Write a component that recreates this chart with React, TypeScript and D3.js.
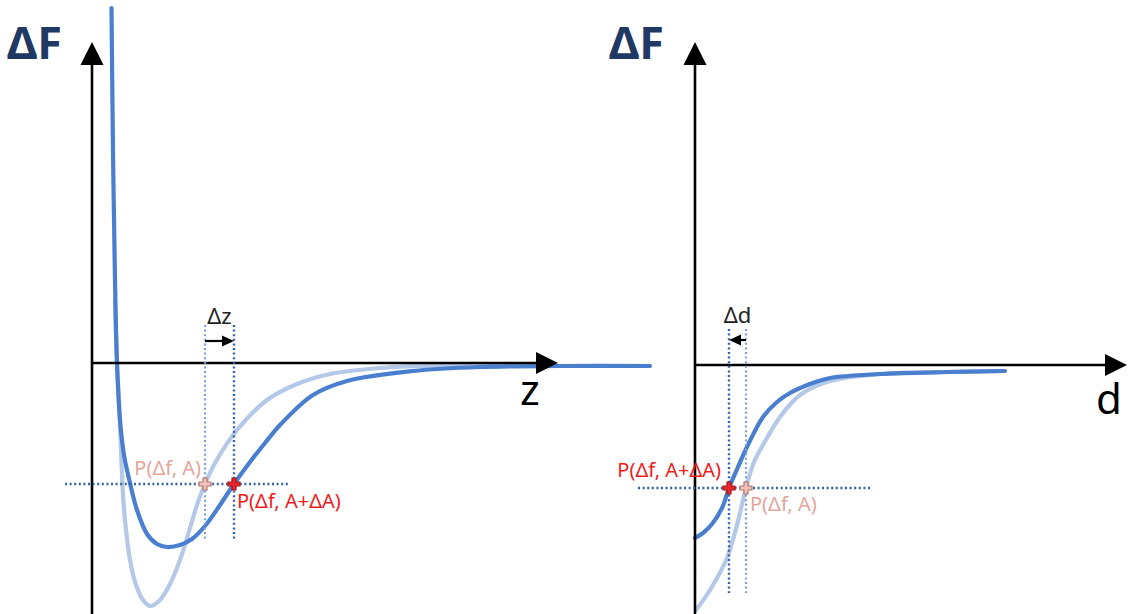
import React from "react";
import * as d3 from "d3";

// Interaction curves ΔF(z): light = amplitude A, dark = amplitude A+ΔA
const leftCurveA: [number, number][] = [
  [0.23, 0.63], [0.25, 0], [0.27, -0.37], [0.29, -0.87], [0.31, -1.32], [0.34, -1.67],
  [0.38, -1.97], [0.44, -2.22], [0.51, -2.37], [0.58, -2.43], [0.67, -2.38], [0.77, -2.23],
  [0.88, -1.97], [0.98, -1.65], [1.06, -1.39], [1.13, -1.21], [1.23, -1.0], [1.45, -0.67],
  [1.75, -0.37], [2.05, -0.21], [2.38, -0.11], [2.88, -0.05], [3.55, -0.02], [4.28, -0.01],
];
const leftCurveAdA: [number, number][] = [
  [0.195, 3.55], [0.21, 2.13], [0.23, 0.83], [0.25, 0], [0.28, -0.57], [0.32, -0.92],
  [0.38, -1.2], [0.45, -1.47], [0.55, -1.71], [0.65, -1.81], [0.75, -1.84], [0.88, -1.82],
  [1.0, -1.76], [1.13, -1.63], [1.26, -1.45], [1.42, -1.21], [1.58, -0.99], [1.73, -0.8],
  [1.88, -0.62], [2.21, -0.32], [2.55, -0.18], [3.21, -0.08], [3.88, -0.04], [4.68, -0.03],
  [5.58, -0.03],
];

// Same interaction plotted against d
const rightCurveA: [number, number][] = [
  [0.01, -2.45], [0.15, -2.25], [0.32, -1.93], [0.42, -1.6], [0.51, -1.23], [0.59, -0.97],
  [0.68, -0.8], [0.85, -0.52], [1.05, -0.3], [1.35, -0.16], [1.85, -0.09], [2.52, -0.07],
  [3.08, -0.06],
];
const rightCurveAdA: [number, number][] = [
  [0.0, -1.73], [0.08, -1.68], [0.17, -1.59], [0.27, -1.43], [0.34, -1.23], [0.43, -1.02],
  [0.52, -0.82], [0.68, -0.52], [0.82, -0.37], [0.95, -0.28], [1.15, -0.19], [1.35, -0.13],
  [1.85, -0.09], [2.52, -0.07], [3.1, -0.06],
];

// Set-point markers [x, ΔF]
const leftPointA: [number, number] = [1.13, -1.21];
const leftPointAdA: [number, number] = [1.42, -1.21];
const rightPointA: [number, number] = [0.51, -1.23];
const rightPointAdA: [number, number] = [0.34, -1.23];

const labelA = "P(Δf, A)";
const labelAdA = "P(Δf, A+ΔA)";
const yLabel = "ΔF";
const leftXLabel = "z";
const rightXLabel = "d";
const leftShiftLabel = "Δz";
const rightShiftLabel = "Δd";

const W = 1128;
const H = 614;

const DARK = "#4a7fd0";
const LIGHT = "#b4c8e8";
const DOT_DARK = "#3462a6";
const DOT_LIGHT = "#7d9fd3";
const RED = "#f01c1c";
const PINK = "#e3a69d";
const NAVY = "#1f3864";
const FONT = "'Noto Sans', 'Open Sans', sans-serif";

const zScale = d3.scaleLinear().domain([0, 4.68]).range([92, 560]);
const fLeft = d3.scaleLinear().domain([-2.51, 3.63]).range([H, 0]);
const dScale = d3.scaleLinear().domain([0, 4.33]).range([695, 1128]);
const fRight = d3.scaleLinear().domain([-2.49, 3.65]).range([H, 0]);

const crossPath = d3.symbol().type(d3.symbolCross).size(80)() as string;

function Arrow({ x1, y1, x2, y2, head, width, sw }: { x1: number; y1: number; x2: number; y2: number; head: number; width: number; sw: number }) {
  const ang = Math.atan2(y2 - y1, x2 - x1);
  const bx = x2 - head * Math.cos(ang);
  const by = y2 - head * Math.sin(ang);
  const px = -Math.sin(ang) * (width / 2);
  const py = Math.cos(ang) * (width / 2);
  return (
    <g>
      <line x1={x1} y1={y1} x2={bx} y2={by} stroke="#000" strokeWidth={sw} />
      <path d={`M${x2},${y2}L${bx + px},${by + py}L${bx - px},${by - py}Z`} fill="#000" />
    </g>
  );
}

function Panel({
  xs, ys, curveA, curveAdA, pA, pAdA, xLabel, shiftLabel, axisTop, axisRightTip, xLabelPos, hRange, vRange, shiftY, labelPos, yLabelX,
}: any) {
  const line = d3
    .line<[number, number]>()
    .x((d) => xs(d[0]))
    .y((d) => ys(d[1]))
    .curve(d3.curveCatmullRom.alpha(0.5));
  const x0 = xs(0);
  const y0 = ys(0);
  const yP = ys(pA[1]);
  const xA = xs(pA[0]);
  const xAdA = xs(pAdA[0]);
  return (
    <g>
      <path d={line(curveA) as string} fill="none" stroke={LIGHT} strokeWidth={4.2} strokeLinecap="round" />
      <path d={line(curveAdA) as string} fill="none" stroke={DARK} strokeWidth={4.2} strokeLinecap="round" />

      {/* axes */}
      <Arrow x1={x0} y1={H} x2={x0} y2={axisTop} head={23} width={23} sw={2.6} />
      <Arrow x1={x0} y1={y0} x2={axisRightTip} y2={y0} head={22} width={22} sw={2.6} />

      {/* guide lines through the set points */}
      <line x1={xs(hRange[0])} x2={xs(hRange[1])} y1={yP} y2={yP} stroke={DOT_DARK} strokeWidth={2.4} strokeDasharray="2 2.6" />
      <line x1={xA} x2={xA} y1={ys(vRange[0])} y2={ys(vRange[1])} stroke={DOT_LIGHT} strokeWidth={2.2} strokeDasharray="2 2.6" />
      <line x1={xAdA} x2={xAdA} y1={ys(vRange[0])} y2={ys(vRange[1])} stroke={DOT_DARK} strokeWidth={2.4} strokeDasharray="2 2.6" />

      {/* shift arrow from A to A+ΔA */}
      <Arrow x1={xA} y1={shiftY} x2={xAdA} y2={shiftY} head={12} width={11} sw={2.2} />
      <text x={(xA + xAdA) / 2} y={shiftY - 17} textAnchor="middle" fontFamily={FONT} fontSize={22} fill="#222">
        {shiftLabel}
      </text>

      {/* set points */}
      <path d={crossPath} transform={`translate(${xA},${yP})`} fill="#efc3ba" stroke="#b5766c" strokeWidth={1.2} />
      <path d={crossPath} transform={`translate(${xAdA},${yP})`} fill="#e8262b" stroke="#a81818" strokeWidth={1.2} />

      <text x={labelPos.ax} y={labelPos.ay} textAnchor={labelPos.aAnchor} fontFamily={FONT} fontSize={20} fill={PINK}>
        {labelA}
      </text>
      <text x={labelPos.bx} y={labelPos.by} textAnchor={labelPos.bAnchor} fontFamily={FONT} fontSize={20} fill={RED}>
        {labelAdA}
      </text>

      <text x={yLabelX} y={59} fontFamily={FONT} fontWeight={700} fontSize={45} fill={NAVY}>
        {yLabel}
      </text>
      <text x={xLabelPos[0]} y={xLabelPos[1]} fontFamily={FONT} fontSize={42} fill="#000">
        {xLabel}
      </text>
    </g>
  );
}

export default function App() {
  return (
    <svg width={W} height={H} style={{ position: "absolute", left: 0, top: 0, background: "#fff" }}>
      <rect width={W} height={H} fill="#fff" />
      <Panel
        xs={zScale}
        ys={fLeft}
        curveA={leftCurveA}
        curveAdA={leftCurveAdA}
        pA={leftPointA}
        pAdA={leftPointAdA}
        xLabel={leftXLabel}
        shiftLabel={leftShiftLabel}
        axisTop={42}
        axisRightTip={558}
        xLabelPos={[520, 405]}
        hRange={[-0.27, 1.98]}
        vRange={[0.38, -1.78]}
        shiftY={341}
        labelPos={{ ax: 201, ay: 475, aAnchor: "end", bx: 237, by: 508, bAnchor: "start" }}
        yLabelX={7}
      />
      <Panel
        xs={dScale}
        ys={fRight}
        curveA={rightCurveA}
        curveAdA={rightCurveAdA}
        pA={rightPointA}
        pAdA={rightPointAdA}
        xLabel={rightXLabel}
        shiftLabel={rightShiftLabel}
        axisTop={42}
        axisRightTip={1127}
        xLabelPos={[1096, 414]}
        hRange={[-0.57, 1.75]}
        vRange={[0.36, -2.28]}
        shiftY={340}
        labelPos={{ ax: 750, ay: 511, aAnchor: "start", bx: 721, by: 477, bAnchor: "end" }}
        yLabelX={609}
      />
    </svg>
  );
}
